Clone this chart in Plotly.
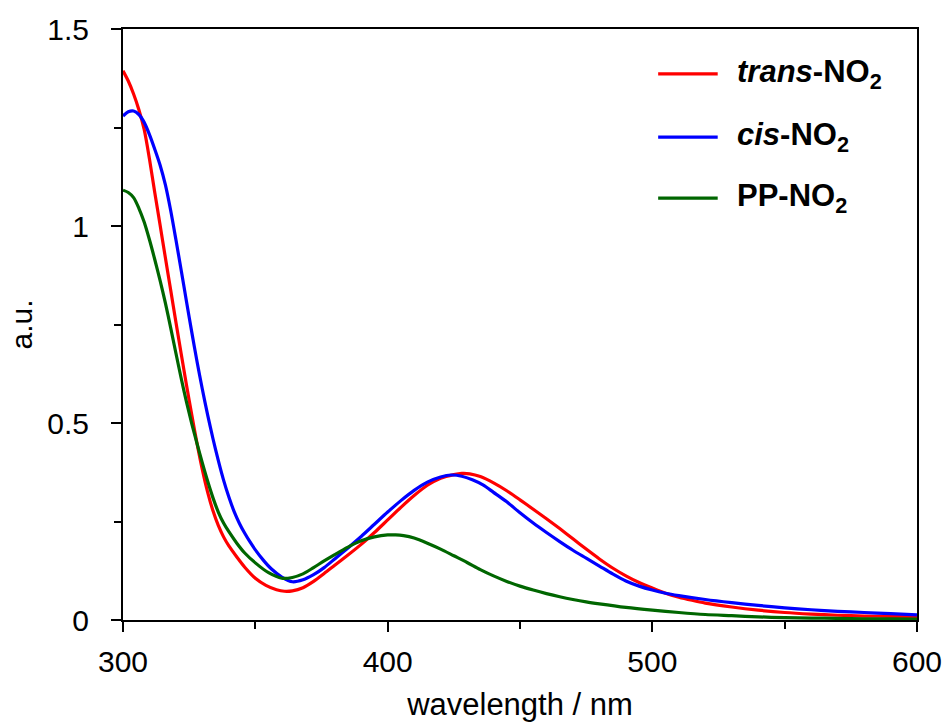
import plotly.graph_objects as go

# ---- data ----
wl_trans = [300, 302, 304, 306, 308, 310, 312, 314, 316, 318, 320, 322, 324, 326, 328, 330, 332, 334,
            336, 338, 340, 343, 346, 350, 354, 358, 361, 364, 368, 372, 376, 380, 385, 390, 395, 400,
            405, 410, 415, 420, 425, 428, 431, 435, 440, 445, 450, 455, 460, 465, 470, 475, 480, 485,
            490, 495, 500, 505, 510, 515, 520, 530, 540, 550, 560, 570, 580, 590, 600]
ab_trans = [1.394, 1.368, 1.335, 1.295, 1.245, 1.17, 1.085, 1.003, 0.92, 0.838, 0.756, 0.675, 0.596,
            0.52, 0.447, 0.381, 0.324, 0.277, 0.24, 0.211, 0.188, 0.16, 0.134, 0.106, 0.088, 0.077,
            0.073, 0.074, 0.082, 0.098, 0.118, 0.139, 0.165, 0.192, 0.222, 0.254, 0.286, 0.316, 0.342,
            0.36, 0.369, 0.372, 0.371, 0.364, 0.348, 0.328, 0.305, 0.281, 0.257, 0.232, 0.206, 0.18,
            0.155, 0.132, 0.112, 0.095, 0.081, 0.068, 0.058, 0.05, 0.043, 0.033, 0.025, 0.019, 0.015,
            0.012, 0.010, 0.009, 0.008]

wl_cis = [300, 302, 304, 306, 308, 310, 312, 314, 316, 318, 320, 322, 324, 326, 328, 330, 332, 334, 336,
          338, 340, 342, 344, 346, 348, 350, 353, 356, 360, 364, 368, 372, 376, 380, 385, 390, 395, 400,
          405, 410, 415, 420, 424, 428, 432, 436, 440, 445, 450, 455, 460, 465, 470, 475, 480, 485, 490,
          495, 500, 505, 510, 520, 530, 540, 550, 560, 570, 580, 590, 600]
ab_cis = [1.279, 1.29, 1.292, 1.283, 1.263, 1.232, 1.195, 1.155, 1.105, 1.04, 0.965, 0.887, 0.808, 0.73,
          0.655, 0.585, 0.52, 0.46, 0.405, 0.355, 0.312, 0.275, 0.245, 0.22, 0.198, 0.178, 0.152, 0.13,
          0.109, 0.097, 0.102, 0.115, 0.133, 0.155, 0.183, 0.212, 0.243, 0.274, 0.303, 0.329, 0.35,
          0.363, 0.368, 0.365, 0.356, 0.343, 0.324, 0.3, 0.272, 0.246, 0.222, 0.199, 0.177, 0.157,
          0.137, 0.117, 0.099, 0.086, 0.076, 0.068, 0.062, 0.052, 0.044, 0.037, 0.031, 0.026, 0.022,
          0.019, 0.016, 0.013]

wl_pp = [300, 302, 304, 306, 308, 310, 312, 314, 316, 318, 320, 322, 324, 326, 328, 330, 332, 334, 336,
         338, 340, 343, 346, 350, 355, 360, 364, 368, 372, 376, 380, 385, 390, 395, 400, 403, 406, 410,
         415, 420, 425, 430, 435, 440, 445, 450, 455, 460, 465, 470, 475, 480, 490, 500, 510, 520, 530,
         540, 550, 560, 570, 580, 590, 600]
ab_pp = [1.091, 1.085, 1.072, 1.045, 1.01, 0.965, 0.915, 0.862, 0.805, 0.742, 0.677, 0.613, 0.553, 0.498,
         0.447, 0.398, 0.352, 0.31, 0.274, 0.246, 0.224, 0.195, 0.17, 0.145, 0.12, 0.106, 0.108, 0.117,
         0.133, 0.15, 0.166, 0.185, 0.201, 0.211, 0.216, 0.216, 0.214, 0.208, 0.195, 0.18, 0.163,
         0.146, 0.128, 0.112, 0.098, 0.086, 0.076, 0.067, 0.059, 0.052, 0.046, 0.041, 0.032, 0.025,
         0.019, 0.014, 0.011, 0.008, 0.006, 0.005, 0.004, 0.003, 0.003, 0.002]

series_names = ["<b><i>trans</i>-NO<sub>2</sub></b>",
                "<b><i>cis</i>-NO<sub>2</sub></b>",
                "<b>PP-NO<sub>2</sub></b>"]
series_colors = ["#ff0000", "#0000ff", "#006600"]

x_tickvals = [300, 400, 500, 600]
y_tickvals = [0, 0.5, 1, 1.5]
y_ticktext = ["0", "0.5", "1", "1.5"]

FONT = "Liberation Sans, Arial, sans-serif"

fig = go.Figure()
for wl, ab, color in zip([wl_trans, wl_cis, wl_pp], [ab_trans, ab_cis, ab_pp], series_colors):
    fig.add_trace(go.Scatter(x=wl, y=ab, mode="lines",
                             line=dict(color=color, width=3.2, shape="spline", smoothing=0.8),
                             showlegend=False, hoverinfo="skip"))

# custom legend (long line samples like the reference)
leg_y = [0.924, 0.817, 0.714]
for name, color, yy in zip(series_names, series_colors, leg_y):
    fig.add_shape(type="line", xref="paper", yref="paper", x0=0.674, x1=0.749, y0=yy, y1=yy,
                  line=dict(color=color, width=3.2))
    fig.add_annotation(xref="paper", yref="paper", x=0.771, y=yy, text=name, showarrow=False,
                       xanchor="left", yanchor="middle", font=dict(family=FONT, size=31, color="black"))

axis_common = dict(showline=True, linecolor="black", linewidth=2, mirror=True,
                   ticks="outside", ticklen=10, tickwidth=2, tickcolor="black",
                   showgrid=False, zeroline=False, automargin=False,
                   tickfont=dict(family=FONT, size=30, color="black"))

fig.update_xaxes(range=[300, 600], tickvals=x_tickvals, ticklabelstandoff=4,
                 minor=dict(dtick=50, ticks="outside", ticklen=7, tickwidth=2, tickcolor="black", showgrid=False),
                 title=dict(text="wavelength / nm", font=dict(family=FONT, size=31, color="black"), standoff=16),
                 **axis_common)
fig.update_yaxes(range=[0, 1.5], tickvals=y_tickvals, ticktext=y_ticktext, ticklabelstandoff=16,
                 minor=dict(dtick=0.25, ticks="outside", ticklen=7, tickwidth=2, tickcolor="black", showgrid=False),
                 title=dict(text="a.u.", font=dict(family=FONT, size=30, color="black"), standoff=6),
                 **axis_common)

fig.update_layout(width=949, height=724, margin=dict(l=123, r=32, t=29, b=104),
                  paper_bgcolor="white", plot_bgcolor="white",
                  font=dict(family=FONT, color="black"))

fig.write_html("out.html")
